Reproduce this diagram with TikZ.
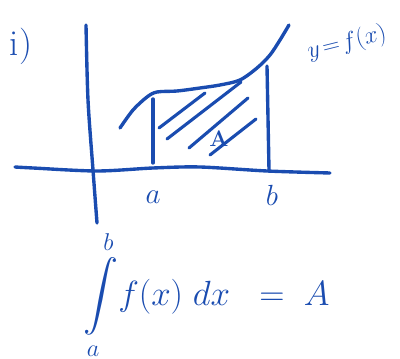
\documentclass[tikz,border=0pt]{standalone}
\usepackage{amsmath}
\usetikzlibrary{positioning}
\definecolor{penblue}{HTML}{1A4CB0}

\begin{document}
\begin{tikzpicture}[
    x=0.025cm, y=-0.025cm,
    pen/.style={draw=penblue, line width=2.4pt, line cap=round, line join=round},
    hatch/.style={pen, line width=2.2pt},
    hand/.style={text=penblue, inner sep=0pt},
    lbl/.style={hand, font=\fontsize{22}{26}\selectfont}
]

% ── CANVAS ─────────────────────────────────────────────────────
\useasboundingbox (0,0) rectangle (400,359);

% ── PART LABEL ─────────────────────────────────────────────────
\node[hand, font=\fontsize{26}{30}\selectfont] (part) at (21,46) {i)};

% ── AXES ───────────────────────────────────────────────────────
\draw[pen] plot[smooth] coordinates {(15,167) (33,168) (97,171) (153,168) (200,167) (267,171) (330,173)};
\draw[pen] plot[smooth] coordinates {(86,25) (88,100) (93,170) (97,223)};

% ── CURVE y = f(x) ─────────────────────────────────────────────
\draw[pen] plot[smooth] coordinates {(120,128) (133,110) (147,97) (157,92) (177,91)
    (200,88) (220,85) (240,80) (257,68) (270,55) (280,40) (289,25)};
\node[hand, font=\fontsize{18}{21}\selectfont, rotate=14] (curvename) at (347,43) {$y\!=\!f(x)$};

% ── BOUNDS a AND b ─────────────────────────────────────────────
\draw[pen] (153,99) -- (153,163);
\draw[pen] (267,66) -- (269,170);
\node[lbl] (lowa) at (153,197) {$a$};
\node[lbl] (uppb) at (272,195) {$b$};

% ── SHADED AREA ────────────────────────────────────────────────
\draw[hatch] (159,128) -- (205,93);
\draw[hatch] (167,139) -- (241,82);
\draw[hatch] (189,148) -- (248,98);
\draw[hatch] (210,155) -- (256,119);
\node[hand, font=\fontsize{16}{19}\bfseries\selectfont] (area) at (219,139) {A};

% ── FORMULA ────────────────────────────────────────────────────
\node[hand, font=\fontsize{26}{31}\selectfont, anchor=west] (integral) at (83,295)
    {$\displaystyle\int\limits_a^b\! f(x)\;dx\;\;=\;A$};

\end{tikzpicture}
\end{document}
